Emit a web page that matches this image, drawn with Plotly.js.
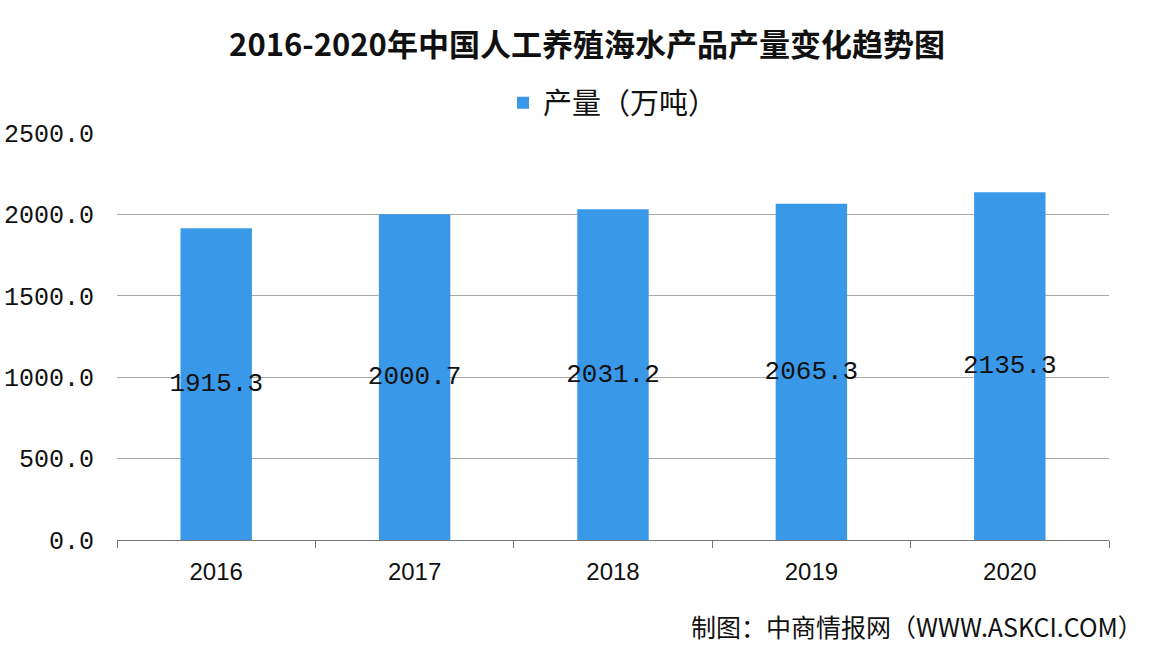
<!DOCTYPE html>
<html>
<head>
<meta charset="utf-8">
<script src="https://cdn.plot.ly/plotly-3.0.1.min.js"></script>
<style>html,body{margin:0;padding:0;background:#fff;}#chart{width:1152px;height:652px;}</style>
</head>
<body>
<div id="chart"></div>
<script>
const years = ['2016', '2017', '2018', '2019', '2020'];
const output = [1915.3, 2000.7, 2031.2, 2065.3, 2135.3];
const seriesName = '产量（万吨）';
const chartTitle = '2016-2020年中国人工养殖海水产品产量变化趋势图';
const sourceNote = '制图：中商情报网（WWW.ASKCI.COM）';
const yTicks = [0, 500, 1000, 1500, 2000, 2500];

const trace = {
  type: 'bar',
  x: years,
  y: output,
  name: seriesName,
  marker: {color: '#3a98e8'},
  text: output.map(v => v.toFixed(1)),
  textposition: 'inside',
  insidetextanchor: 'middle',
  textangle: 0,
  constraintext: 'none',
  cliponaxis: false,
  textfont: {family: 'Liberation Mono, DejaVu Sans Mono, monospace', size: 26, color: '#111'},
  hoverinfo: 'skip'
};

const layout = {
  width: 1152, height: 652,
  paper_bgcolor: '#ffffff', plot_bgcolor: '#ffffff',
  margin: {l: 117, r: 43, t: 133, b: 112},
  bargap: 0.64,
  title: {
    text: '<b>' + chartTitle + '</b>',
    font: {family: 'Noto Sans CJK SC, sans-serif', size: 31, color: '#111'},
    x: 587/1152, xanchor: 'center', xref: 'container',
    y: 1 - 45/652, yanchor: 'middle', yref: 'container'
  },
  showlegend: true,
  legend: {
    orientation: 'h', x: 0.5, xanchor: 'center', y: 1 + (133-103)/407, yanchor: 'middle',
    font: {family: 'Noto Sans CJK SC, sans-serif', size: 29, color: '#111'},
    bgcolor: 'rgba(0,0,0,0)', itemwidth: 30
  },
  xaxis: {
    type: 'category',
    tickson: 'boundaries',
    ticks: 'outside', ticklen: 7, tickcolor: '#777', tickwidth: 1,
    showline: true, linecolor: '#777', linewidth: 1,
    showgrid: false,
    tickfont: {family: 'Liberation Sans, Arial, sans-serif', size: 24, color: '#111'},
    ticklabelstandoff: 10,
    fixedrange: true
  },
  yaxis: {
    range: [0, 2500],
    tickvals: yTicks,
    ticktext: yTicks.map(v => v.toFixed(1)),
    showgrid: true, gridcolor: '#a8a8a8', gridwidth: 1,
    zeroline: false, showline: false, ticks: '',
    tickfont: {family: 'Liberation Mono, DejaVu Sans Mono, monospace', size: 25, color: '#111'},
    ticklabelstandoff: 22,
    fixedrange: true
  },
  annotations: [{
    text: sourceNote, xref: 'paper', yref: 'paper',
    x: 1 + (1145-1109)/992, xanchor: 'right',
    y: -(626-540)/407, yanchor: 'middle',
    showarrow: false,
    font: {family: 'Noto Sans CJK SC, sans-serif', size: 25, color: '#111'}
  }]
};

Plotly.newPlot('chart', [trace], layout, {displayModeBar: false, staticPlot: true});
</script>
</body>
</html>
